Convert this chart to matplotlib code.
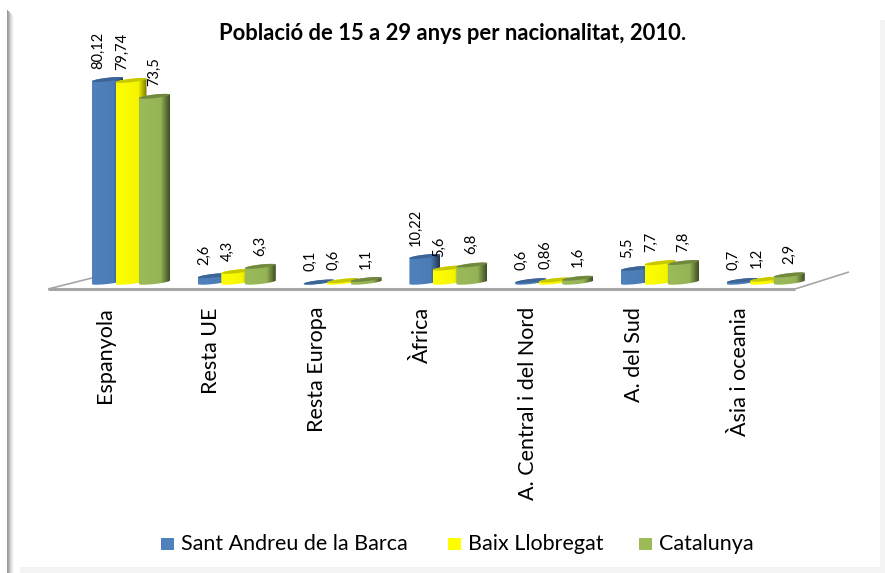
import numpy as np
import matplotlib
matplotlib.use("Agg")
import matplotlib.pyplot as plt
from matplotlib.patches import PathPatch, Rectangle
from matplotlib.path import Path
from matplotlib.colors import to_rgb

categories = ["Espanyola", "Resta UE", "Resta Europa", "Àfrica",
              "A. Central i del Nord", "A. del Sud", "Àsia i oceania"]
series = ["Sant Andreu de la Barca", "Baix Llobregat", "Catalunya"]
sant_andreu = [80.12, 2.6, 0.1, 10.22, 0.6, 5.5, 0.7]
baix_llobregat = [79.74, 4.3, 0.6, 5.6, 0.86, 7.7, 1.2]
catalunya = [73.5, 6.3, 1.1, 6.8, 1.6, 7.8, 2.9]
sant_andreu_txt = ["80,12", "2,6", "0,1", "10,22", "0,6", "5,5", "0,7"]
baix_llobregat_txt = ["79,74", "4,3", "0,6", "5,6", "0,86", "7,7", "1,2"]
catalunya_txt = ["73,5", "6,3", "1,1", "6,8", "1,6", "7,8", "2,9"]
colors = ["#4f81bd", "#ffff00", "#9bbb59"]
tops = ["#3c6496", "#c8c800", "#71893f"]

W, H = 885, 573
plt.rcParams["font.family"] = ["Lato", "DejaVu Sans"]
fig = plt.figure(figsize=(W / 100, H / 100), dpi=100, facecolor="white")

# axes: one x unit = one category step, y in percent (2.53 px per unit)
step = 105.8
ppu = 2.53
left, right, bottom, top = 40, 860, 300, 30
ax = fig.add_axes([left / W, 1 - bottom / H, (right - left) / W, (bottom - top) / H])
ax.set_xlim((left - 127.5) / step, (right - 127.5) / step)
ax.set_ylim((284 - bottom) / ppu, (284 - top) / ppu)
ax.axis("off")

px = 1 / step
bar_w = 23.5 * px
full_w = 31 * px
rise = 3.5 / ppu
ell_h = 3.5 / ppu


def shade(color, n=64):
    # horizontal gradient of the cylinder: lit front, dark right side
    c = np.array(to_rgb(color))
    t = np.linspace(0, 1, n)
    f = np.where(t < 0.7, 1.0 - 0.04 * (t / 0.7), 0.96 - 0.55 * (t - 0.7) / 0.3)
    return np.clip(f[:, None] * c, 0, 1)[None, :, :]


def cylinder(x0, v, color, top_color):
    t = np.linspace(0, np.pi, 30)
    xm = x0 + full_w / 2
    xs = xm - full_w / 2 * np.cos(t)
    slope = rise * (-np.cos(t) + 1) / 2
    low = slope - ell_h * np.sin(t) * 0.5
    up = slope + ell_h * np.sin(t) * 0.5
    # silhouette: bottom edge going right, top edge going left
    vx = np.r_[xs, xs[::-1], xs[0]]
    vy = np.r_[low, (v + up)[::-1], low[0]]
    patch = PathPatch(Path(np.c_[vx, vy]), fc="none", ec="none", zorder=3)
    ax.add_patch(patch)
    im = ax.imshow(shade(color), extent=(x0, x0 + full_w, low.min(), v + up.max()),
                   aspect="auto", zorder=3, interpolation="bilinear")
    im.set_clip_path(patch)
    lidx = np.r_[xs, xs[::-1]]
    lidy = np.r_[v + low, (v + up)[::-1]]
    ax.fill(lidx, lidy, color=top_color, lw=0, zorder=3)


values = [sant_andreu, baix_llobregat, catalunya]
labels = [sant_andreu_txt, baix_llobregat_txt, catalunya_txt]
label_dx = [6.5 * px, 6.5 * px, 15 * px]

# floor of the 3D box
floor = dict(color="#a6a6a6", zorder=1, solid_capstyle="butt")
fx0, fx1 = (48 - 127.5) * px, (795 - 127.5) * px
ax.plot([fx0, fx1], [-5 / ppu, -5 / ppu], lw=2.2, **floor)
ax.plot([fx0, fx0 + 44 * px], [-5 / ppu, 6 / ppu], lw=1.2, **floor)
ax.plot([fx1, fx1 + 54 * px], [-5 / ppu, 12 / ppu], lw=1.2, **floor)

for j in range(3):
    for i in range(len(categories)):
        x0 = i - 35.5 * px + j * bar_w
        v = values[j][i]
        cylinder(x0, v, colors[j], tops[j])
        ax.text(x0 + label_dx[j], v + 12.5 / ppu, labels[j][i], rotation=90,
                ha="center", va="bottom", fontsize=10.5, color="black", zorder=5)

for i, name in enumerate(categories):
    ax.text(i - 22.5 * px, -23 / ppu, name, rotation=90, ha="center", va="top",
            fontsize=15.5, color="black")

fig.text(453 / W, 1 - 33 / H, "Població de 15 a 29 anys per nacionalitat, 2010.",
         ha="center", va="center", fontsize=15.8, fontweight="bold", color="black")

# legend
legend_x = [161, 448, 639]
for x, name, c in zip(legend_x, series, colors):
    fig.add_artist(Rectangle((x / W, 1 - 550 / H), 13 / W, 12 / H, transform=fig.transFigure,
                             fc=c, ec="none"))
    fig.text((x + 20) / W, 1 - 550 / H, name, ha="left", va="baseline", fontsize=15.5, color="black")

# soft shadow at the image edges
for rect in [(880, 20, 5, 553), (20, 567, 865, 6)]:
    fig.add_artist(Rectangle((rect[0] / W, 1 - (rect[1] + rect[3]) / H), rect[2] / W, rect[3] / H,
                             transform=fig.transFigure, fc="#f3f3f3", ec="none"))
for k, grey in enumerate(["#9c9c9c", "#a8a8a8", "#bcbcbc", "#d0d0d0", "#e2e2e2", "#f0f0f0", "#f8f8f8"]):
    fig.add_artist(Rectangle(((7 + k) / W, 0), 1 / W, 1 - (10 + k) / H,
                             transform=fig.transFigure, fc=grey, ec="none"))

fig.savefig("out.png", dpi=100)
